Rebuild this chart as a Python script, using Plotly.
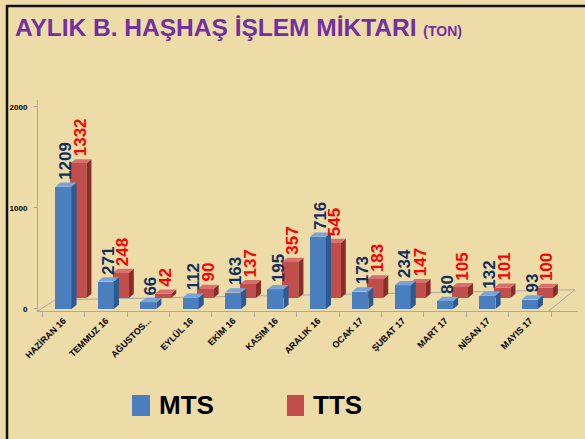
import plotly.graph_objects as go

# Monthly poppy-straw processing volume (tons)
months = ["HAZİRAN 16", "TEMMUZ 16", "AĞUSTOS...", "EYLÜL 16", "EKİM 16", "KASIM 16",
          "ARALIK 16", "OCAK 17", "ŞUBAT 17", "MART 17", "NİSAN 17", "MAYIS 17"]
mts = [1209, 271, 66, 112, 163, 195, 716, 173, 234, 80, 132, 93]
tts = [1332, 248, 42, 90, 137, 357, 545, 183, 147, 105, 101, 100]
y_ticks = [0, 1000, 2000]

# pseudo-3D geometry (data units)
BAR_W = 0.38          # front face width
ROW_DX = 0.35         # back row shift to the right
ROW_DY = 109          # back row lifted (depth)
FACE_DX = 0.12        # depth of side/top faces
FACE_DY = 42

BLUE = dict(front="#4A7EBF", side="#2D5A90", top="#7AA3D8", text="#13305C")
RED = dict(front="#C24E4B", side="#8A2C2A", top="#D8706D", text="#FF0000")

X_RANGE = [-0.6, 12.136]
Y_RANGE = [-20, 2069]

fig = go.Figure()
xs = list(range(len(months)))


def add_series(vals, base, shift, col, name):
    fig.add_trace(go.Bar(
        x=[i + shift for i in xs], y=vals, base=[base] * len(vals), width=BAR_W,
        marker=dict(color=col["front"], line=dict(width=0)), name=name,
        showlegend=False, hoverinfo="skip"))


def faces(vals, base, shift, col, layer):
    for i, v in zip(xs, vals):
        l = i + shift - BAR_W / 2
        r = i + shift + BAR_W / 2
        top = base + v
        side = (f"M {r},{base} L {r + FACE_DX},{base + FACE_DY} "
                f"L {r + FACE_DX},{top + FACE_DY} L {r},{top} Z")
        lid = (f"M {l},{top} L {l + FACE_DX},{top + FACE_DY} "
               f"L {r + FACE_DX},{top + FACE_DY} L {r},{top} Z")
        fig.add_shape(type="path", path=side, xref="x", yref="y", layer=layer,
                      fillcolor=col["side"], line=dict(width=0))
        fig.add_shape(type="path", path=lid, xref="x", yref="y", layer=layer,
                      fillcolor=col["top"], line=dict(width=0))


def labels(vals, base, shift, col):
    for i, v in zip(xs, vals):
        fig.add_annotation(
            x=i + shift + FACE_DX / 2, y=base + v, xref="x", yref="y",
            text=f"<b>{v}</b>", textangle=-90, showarrow=False,
            xanchor="center", yanchor="bottom", yshift=5,
            font=dict(family="Liberation Sans", size=17, color=col["text"]))


# floor outline
floor = (f"M {X_RANGE[0]},{Y_RANGE[0]} L {X_RANGE[0] + 0.4},{90} "
         f"L {X_RANGE[1] - 0.07},{190} L {X_RANGE[1] - 0.72},{-30}")
fig.add_shape(type="path", path=floor, xref="x", yref="y", layer="below",
              line=dict(color="#A8A8A8", width=1))

# back row (TTS), then front row (MTS)
add_series(tts, ROW_DY, ROW_DX, RED, "TTS")
faces(tts, ROW_DY, ROW_DX, RED, "below")
add_series(mts, 0, 0, BLUE, "MTS")
faces(mts, 0, 0, BLUE, "above")
labels(mts, 0, 0, BLUE)
labels(tts, ROW_DY, ROW_DX, RED)

# legend drawn in paper space
PL, PW, PB, PH = 38, 540, 311, 211


def px(xp):
    return (xp - PL) / PW


def py(yp):
    return (PB - yp) / PH


for x0, x1, colr, txt, tx in [(132, 150, BLUE["front"], "MTS", 157),
                               (287, 304, RED["front"], "TTS", 311)]:
    fig.add_shape(type="rect", xref="paper", yref="paper",
                  x0=px(x0), x1=px(x1), y0=py(416), y1=py(395),
                  fillcolor=colr, line=dict(width=0))
    fig.add_annotation(xref="paper", yref="paper", x=px(tx), y=py(405),
                       text=f"<b>{txt}</b>", showarrow=False,
                       xanchor="left", yanchor="middle",
                       font=dict(family="Liberation Sans", size=26, color="#000000"))

# frame lines at top and left
fig.add_shape(type="line", xref="paper", yref="paper", x0=px(6), x1=px(585),
              y0=py(6), y1=py(6), line=dict(color="#111111", width=2.5))
fig.add_shape(type="line", xref="paper", yref="paper", x0=px(7), x1=px(7),
              y0=py(5), y1=py(439), line=dict(color="#111111", width=2.5))

fig.update_layout(
    width=585, height=439,
    margin=dict(l=PL, r=585 - PL - PW, t=PB - PH, b=439 - PB),
    paper_bgcolor="#EEDCA8", plot_bgcolor="rgba(0,0,0,0)",
    barmode="overlay", bargap=0,
    title=dict(
        text="<b>AYLIK B. HAŞHAŞ İŞLEM MİKTARI</b> <b><span style='font-size:14px'>(TON)</span></b>",
        x=15 / 585, xanchor="left", y=1 - 27 / 439, yanchor="middle",
        font=dict(family="Liberation Sans", size=24.5, color="#7030A0")),
    xaxis=dict(range=X_RANGE, tickvals=xs, ticktext=months, tickangle=-45,
               showline=True, linecolor="#A8A8A8", linewidth=1, ticks="",
               showgrid=False, zeroline=False,
               minor=dict(ticks="outside", tick0=0.5, dtick=1, ticklen=5,
                          tickcolor="#A8A8A8"),
               tickfont=dict(family="Liberation Sans", size=9, color="#000000", weight="bold")),
    yaxis=dict(range=Y_RANGE, tickvals=y_ticks, ticktext=[str(v) for v in y_ticks],
               showline=True, linecolor="#A8A8A8", linewidth=1, ticks="outside",
               ticklen=3, tickcolor="#A8A8A8", showgrid=False, zeroline=False,
               ticklabelstandoff=5,
               tickfont=dict(family="Liberation Sans", size=8, color="#000000", weight="bold")),
    showlegend=False,
)

fig.write_html("out.html")
